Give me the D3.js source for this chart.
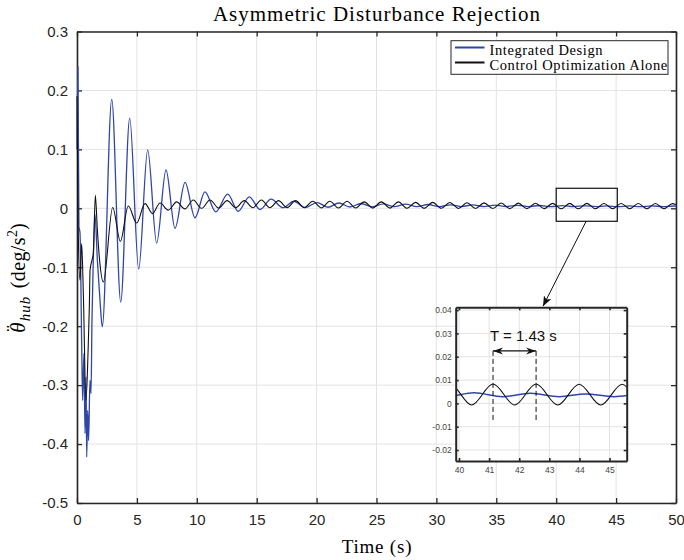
<!DOCTYPE html>
<html>
<head>
<meta charset="utf-8">
<script src="https://cdn.jsdelivr.net/npm/d3@7.9.0/dist/d3.min.js"></script>
<style>
  body { margin: 0; background: #fff; }
  svg { display: block; }
</style>
</head>
<body>
<svg id="chart" width="684" height="560"></svg>
<script>
const xTicks = [0, 5, 10, 15, 20, 25, 30, 35, 40, 45, 50];
const yTicks = [0.3, 0.2, 0.1, 0, -0.1, -0.2, -0.3, -0.4, -0.5];
const insetXTicks = [40, 41, 42, 43, 44, 45];
const insetYTicks = [0.04, 0.03, 0.02, 0.01, 0, -0.01, -0.02];
const seriesNames = ["Integrated Design", "Control Optimization Alone"];

// Integrated Design (blue): transient samples, then the read-off peaks and troughs
const blueTime = [0, 0.08, 0.16, 0.25, 0.39, 0.47, 0.58, 0.67, 0.75, 0.81, 0.89, 0.97, 1.08, 1.17, 1.25, 1.36, 1.5, 1.7, 1.92,
  2.11, 2.9, 3.65, 4.4, 5.15, 5.9, 6.65, 7.43, 8.18, 9.02, 9.85, 10.68, 11.58, 12.58, 13.46, 14.38, 15.28, 16.2,
  17.2, 18.1, 19.06, 20.03, 20.95, 21.86, 22.78, 23.7, 24.64, 25.57, 26.5, 27.43, 28.37, 29.3, 30.23, 31.17,
  32.1, 33.03, 33.97, 34.9, 35.83, 36.77, 37.7, 38.63, 39.57, 40.5, 41.45, 42.37, 43.33, 44.2, 45.15, 46.1,
  47.03, 47.97, 48.9, 49.83, 50];
const blueValue = [0.1, 0.24, -0.03, -0.042, -0.229, -0.326, -0.246, -0.382, -0.286, -0.422, -0.343, -0.394, -0.292, -0.314, -0.19, -0.088, -0.01, -0.088, -0.156,
  -0.201, 0.185, -0.159, 0.153, -0.103, 0.099, -0.059, 0.065, -0.034, 0.044, -0.016, 0.028, -0.006, 0.024, -0.005, 0.0195, -0.002, 0.0155,
  0.001, 0.012, 0.0012, 0.0098, 0.0018, 0.009, 0.0022, 0.0082, 0.0025, 0.0075, 0.0027, 0.007, 0.0028, 0.0065, 0.0029, 0.006,
  0.003, 0.0057, 0.003, 0.0053, 0.003, 0.005, 0.003, 0.0048, 0.0029, 0.0046, 0.0029, 0.0043, 0.0029, 0.004, 0.0029, 0.004,
  0.0029, 0.004, 0.003, 0.0039, 0.0038];

// Control Optimization Alone (black)
const blackTime = [0, 0.1, 0.25, 0.39, 0.53, 0.75, 0.92, 1.03, 1.09, 1.25, 1.36, 1.53, 1.7, 1.86,
  2.2, 2.98, 3.62, 4.28, 4.98, 5.68, 6.3, 6.93, 7.62, 8.32, 9.0, 9.71, 10.4, 11.1, 11.82, 12.53, 13.25, 13.96,
  14.68, 15.39, 16.1, 16.82, 17.54, 18.25, 18.97, 19.68, 20.4, 21.11, 21.83, 22.54, 23.26, 23.97, 24.69, 25.4,
  26.12, 26.83, 27.55, 28.26, 28.98, 29.69, 30.41, 31.12, 31.84, 32.55, 33.27, 33.98, 34.7, 35.41, 36.13, 36.84,
  37.56, 38.27, 38.99, 39.7, 40.42, 41.13, 41.85, 42.56, 43.28, 43.99, 44.71, 45.42, 46.14, 46.85, 47.57, 48.28,
  49.0, 49.71, 50];
const blackValue = [0.19, -0.037, -0.122, -0.06, -0.145, -0.326, -0.246, -0.167, -0.105, -0.088, -0.077, 0.022, -0.037, -0.082,
  -0.125, 0.0015, -0.056, 0.004, -0.025, 0.008, -0.009, 0.009, -0.003, 0.011, -0.001, 0.014, 0.0, 0.014, 0.0005, 0.013, 0.001, 0.013,
  0.001, 0.014, 0.001, 0.013, 0.001, 0.013, 0.001, 0.012, 0.0008, 0.012, 0.0006, 0.012, 0.0005, 0.011, 0.0004, 0.011,
  0.0003, 0.011, 0.0002, 0.010, 0.0, 0.010, 0.0, 0.0098, -0.0002, 0.0095, -0.0003, 0.0093, -0.0004, 0.009, -0.0005, 0.0088,
  -0.0006, 0.0086, -0.0006, 0.0084, -0.0007, 0.0083, -0.0007, 0.0083, -0.0007, 0.0082, -0.0007, 0.0082, -0.0007, 0.0081, -0.0007, 0.0081,
  -0.0007, 0.008, 0.006];

const zoomTime = [40, 45.1];
const zoomValue = [-0.022, 0.034];
const arrowFrom = [42.5, -0.022];
const arrowTo = [38.9, -0.166];
const periodMarks = [41.13, 42.56];
const periodSpan = [0.0225, -0.0076];
const periodLabel = "T = 1.43 s";

const blueColor = "#2f45a8";
const blackColor = "#111111";
const axisColor = "#262626";
const gridColor = "#e3e3e3";
const sansFont = "'Liberation Sans', Arial, sans-serif";
const serifFont = "'Liberation Serif', 'Times New Roman', serif";

const svg = d3.select("#chart");
const defs = svg.append("defs");

const x = d3.scaleLinear().domain([0, 50]).range([77, 676]);
const y = d3.scaleLinear().domain([-0.5, 0.3]).range([503, 31.5]);

const ix = d3.scaleLinear().domain([39.89, 45.57]).range([455.7, 626.7]);
const iy = d3.scaleLinear().domain([-0.0247, 0.0412]).range([461, 307.3]);

const blueData = blueTime.map((t, i) => [t, blueValue[i]]);
const blackData = blackTime.map((t, i) => [t, blackValue[i]]);

function addClip(id, sx, sy, pad) {
  defs.append("clipPath").attr("id", id).append("rect")
    .attr("x", sx.range()[0] - pad).attr("y", sy.range()[1])
    .attr("width", sx.range()[1] - sx.range()[0] + pad)
    .attr("height", sy.range()[0] - sy.range()[1]);
}
addClip("mainClip", x, y, 1);
addClip("insetClip", ix, iy, 0);

function drawGrid(g, sx, sy, xt, yt) {
  const [x0, x1] = sx.range();
  const [y0, y1] = sy.range();
  g.append("g").selectAll("line").data(xt).join("line")
    .attr("x1", d => sx(d)).attr("x2", d => sx(d))
    .attr("y1", y0).attr("y2", y1)
    .attr("stroke", gridColor).attr("stroke-width", 1);
  g.append("g").selectAll("line").data(yt).join("line")
    .attr("y1", d => sy(d)).attr("y2", d => sy(d))
    .attr("x1", x0).attr("x2", x1)
    .attr("stroke", gridColor).attr("stroke-width", 1);
}

function drawAxes(g, sx, sy, xt, yt, o) {
  const [x0, x1] = sx.range();
  const [y0, y1] = sy.range();
  const parts = [
    [d3.axisBottom(sx).tickValues(xt).tickPadding(o.xPad).tickFormat(o.xFormat), `translate(0,${y0})`],
    [d3.axisTop(sx).tickValues(xt).tickFormat(""), `translate(0,${y1})`],
    [d3.axisLeft(sy).tickValues(yt).tickPadding(o.yPad).tickFormat(o.yFormat), `translate(${x0},0)`],
    [d3.axisRight(sy).tickValues(yt).tickFormat(""), `translate(${x1},0)`]
  ];
  parts.forEach(([axis, tr]) => {
    const a = g.append("g").attr("transform", tr)
      .call(axis.tickSizeInner(-o.tick).tickSizeOuter(0));
    a.selectAll(".domain").attr("stroke", axisColor).attr("stroke-width", o.width);
    a.selectAll(".tick line").attr("stroke", axisColor).attr("stroke-width", o.width * 0.8);
    a.selectAll("text").attr("fill", o.labelColor)
      .style("font-family", sansFont).style("font-size", o.fontSize + "px");
  });
}

function drawLines(g, sx, sy, clipId, widths) {
  const line = d3.line().x(d => sx(d[0])).y(d => sy(d[1])).curve(d3.curveMonotoneX);
  const lg = g.append("g").attr("clip-path", `url(#${clipId})`);
  lg.append("path").datum(blueData).attr("d", line)
    .attr("fill", "none").attr("stroke", blueColor).attr("stroke-width", widths[0]);
  lg.append("path").datum(blackData).attr("d", line)
    .attr("fill", "none").attr("stroke", blackColor).attr("stroke-width", widths[1]);
}

const fmtMain = d => (d === 0 ? "0" : d.toFixed(1));
const fmtInset = d => (Math.abs(d) < 1e-9 ? "0" : d.toFixed(2));

// main axes
const main = svg.append("g");
drawGrid(main, x, y, xTicks, yTicks);
drawAxes(main, x, y, xTicks, yTicks, {
  tick: 5, width: 1.6, xPad: 11, yPad: 9, fontSize: 15,
  labelColor: axisColor, xFormat: d3.format("d"), yFormat: fmtMain
});
drawLines(main, x, y, "mainClip", [1.3, 1.1]);

// arrowheads
defs.append("marker").attr("id", "headSolid")
  .attr("viewBox", "0 0 10 8").attr("refX", 10).attr("refY", 4)
  .attr("markerWidth", 10).attr("markerHeight", 8)
  .attr("markerUnits", "userSpaceOnUse").attr("orient", "auto")
  .append("path").attr("d", "M0,0 L10,4 L0,8 L2.5,4 Z").attr("fill", "#111");
defs.append("marker").attr("id", "headOpen")
  .attr("viewBox", "0 0 10 8").attr("refX", 10).attr("refY", 4)
  .attr("markerWidth", 10).attr("markerHeight", 8)
  .attr("markerUnits", "userSpaceOnUse").attr("orient", "auto-start-reverse")
  .append("path").attr("d", "M0,0.5 L10,4 L0,7.5 L3,4 Z").attr("fill", "#111");

// zoom window + pointer
main.append("rect")
  .attr("x", x(zoomTime[0])).attr("y", y(zoomValue[1]))
  .attr("width", x(zoomTime[1]) - x(zoomTime[0]))
  .attr("height", y(zoomValue[0]) - y(zoomValue[1]))
  .attr("fill", "none").attr("stroke", "#111").attr("stroke-width", 1.2);
main.append("line")
  .attr("x1", x(arrowFrom[0])).attr("y1", y(arrowFrom[1]))
  .attr("x2", x(arrowTo[0])).attr("y2", y(arrowTo[1]))
  .attr("stroke", "#111").attr("stroke-width", 1)
  .attr("marker-end", "url(#headSolid)");

// legend
const legend = svg.append("g");
legend.append("rect").attr("x", 451).attr("y", 40.7).attr("width", 217).attr("height", 33.6)
  .attr("fill", "#fff").attr("stroke", axisColor).attr("stroke-width", 1);
seriesNames.forEach((name, i) => {
  const yy = 55 + i * 15;
  legend.append("line").attr("x1", 455).attr("x2", 484.5)
    .attr("y1", yy - 7.5).attr("y2", yy - 7.5)
    .attr("stroke", i === 0 ? blueColor : blackColor).attr("stroke-width", 2);
  legend.append("text").attr("x", 489.5).attr("y", yy)
    .style("font-family", serifFont).style("font-size", "14.5px").style("letter-spacing", "0.6px")
    .text(name);
});

// titles
svg.append("text").attr("x", 377).attr("y", 21).attr("text-anchor", "middle")
  .style("font-family", serifFont).style("font-size", "21px").style("letter-spacing", "1px")
  .text("Asymmetric Disturbance Rejection");
svg.append("text").attr("x", 377).attr("y", 553).attr("text-anchor", "middle")
  .style("font-family", serifFont).style("font-size", "19px").style("letter-spacing", "0.8px")
  .text("Time (s)");

const ylab = svg.append("text").attr("transform", "translate(25,278) rotate(-90)")
  .attr("text-anchor", "middle")
  .style("font-family", serifFont).style("font-size", "20px").attr("fill", "#000");
ylab.append("tspan").style("font-style", "italic").style("font-size", "21px").text("\u03B8");
ylab.append("tspan").attr("dx", -9.5).attr("dy", -5.5).text("\u00A8");
ylab.append("tspan").style("font-style", "italic").style("font-size", "15px")
  .style("letter-spacing", "1px").attr("dx", 4).attr("dy", 10.5).text("hub");
ylab.append("tspan").attr("dy", -5).attr("dx", 2).style("letter-spacing", "0.4px").text(" (deg/s");
ylab.append("tspan").style("font-size", "14px").attr("dy", -8).text("2");
ylab.append("tspan").attr("dy", 8).text(")");

// inset
const inset = svg.append("g");
inset.append("rect")
  .attr("x", ix.range()[0]).attr("y", iy.range()[1])
  .attr("width", ix.range()[1] - ix.range()[0])
  .attr("height", iy.range()[0] - iy.range()[1])
  .attr("fill", "#fff");
drawGrid(inset, ix, iy, insetXTicks, insetYTicks);
drawLines(inset, ix, iy, "insetClip", [1.5, 1.1]);

periodMarks.forEach(t => {
  inset.append("line")
    .attr("x1", ix(t)).attr("x2", ix(t))
    .attr("y1", iy(periodSpan[0])).attr("y2", iy(periodSpan[1]))
    .attr("stroke", "#111").attr("stroke-width", 1).attr("stroke-dasharray", "5,3");
});
inset.append("line")
  .attr("x1", ix(periodMarks[0])).attr("x2", ix(periodMarks[1]))
  .attr("y1", iy(periodSpan[0])).attr("y2", iy(periodSpan[0]))
  .attr("stroke", "#111").attr("stroke-width", 1.2)
  .attr("marker-start", "url(#headOpen)").attr("marker-end", "url(#headOpen)");
inset.append("text")
  .attr("x", ix(41.03)).attr("y", iy(0.0268))
  .style("font-family", sansFont).style("font-size", "15px").attr("fill", "#111")
  .text(periodLabel);

drawAxes(inset, ix, iy, insetXTicks, insetYTicks, {
  tick: 3, width: 2, xPad: 6, yPad: 4, fontSize: 8.5,
  labelColor: "#444", xFormat: d3.format("d"), yFormat: fmtInset
});
</script>
</body>
</html>
